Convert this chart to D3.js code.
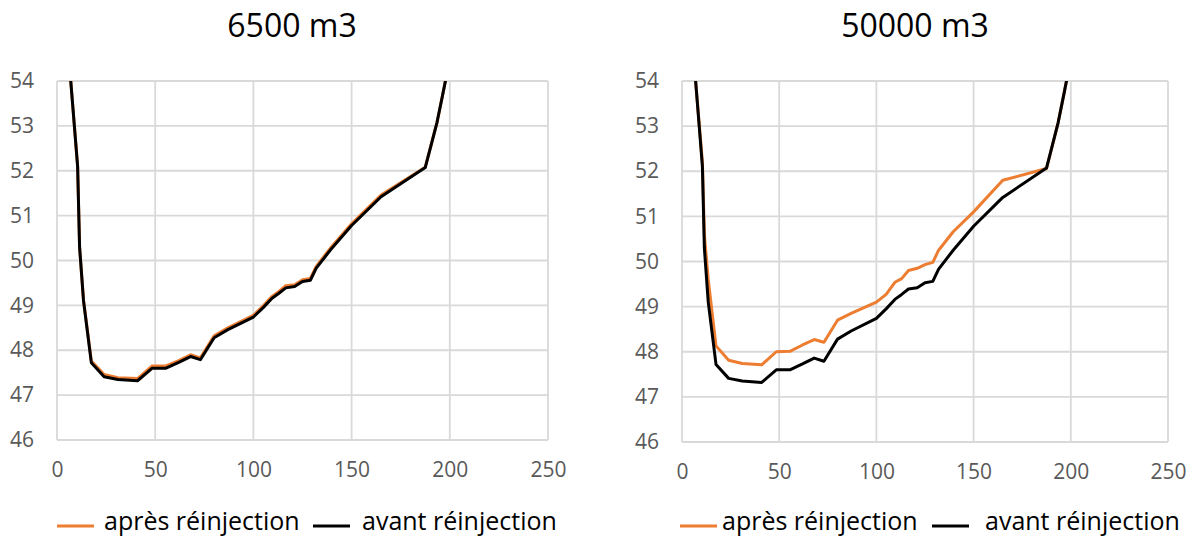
<!DOCTYPE html>
<html>
<head>
<meta charset="utf-8">
<script src="https://cdn.jsdelivr.net/npm/d3@7"></script>
<style>
  html, body { margin: 0; padding: 0; background: #fff; }
  svg { display: block; font-family: "Open Sans", sans-serif; }
</style>
</head>
<body>
<svg id="chart" width="1195" height="538"></svg>
<script>
// distance along the profile (x) and water level (y)
const distance = [7, 10.5, 11.5, 13.5, 17.5, 24, 31, 41, 48.5, 55.5, 62, 68, 73, 80, 87, 100, 105, 109.5, 113, 116.5, 121, 125, 129, 132, 139.5, 150, 165, 187.5, 193.5, 196.5, 198];
const avant = [54, 52.1, 50.3, 49.1, 47.72, 47.41, 47.35, 47.32, 47.6, 47.6, 47.73, 47.86, 47.79, 48.28, 48.46, 48.74, 48.95, 49.16, 49.27, 49.39, 49.42, 49.53, 49.56, 49.83, 50.25, 50.78, 51.42, 52.07, 53.08, 53.72, 54.05];
const apres6500 = [54, 52.1, 50.3, 49.12, 47.76, 47.46, 47.39, 47.37, 47.65, 47.65, 47.77, 47.9, 47.83, 48.32, 48.5, 48.78, 48.99, 49.2, 49.31, 49.44, 49.46, 49.57, 49.6, 49.87, 50.29, 50.82, 51.46, 52.08, 53.08, 53.72, 54.05];
const apres50000 = [54, 52.2, 50.6, 49.6, 48.13, 47.81, 47.74, 47.71, 48.0, 48.01, 48.15, 48.27, 48.21, 48.7, 48.85, 49.1, 49.27, 49.54, 49.62, 49.8, 49.85, 49.93, 49.98, 50.25, 50.66, 51.1, 51.8, 52.06, 53.08, 53.72, 54.05];

const xTicks = [0, 50, 100, 150, 200, 250];
const yTicks = [46, 47, 48, 49, 50, 51, 52, 53, 54];
const titles = ["6500 m3", "50000 m3"];
const seriesNames = ["après réinjection", "avant réinjection"];
const colors = ["#ED7D31", "#000000"];

const svg = d3.select("#chart");

const panels = [
  { title: titles[0], apres: apres6500, x0: 57, x1: 548, y0: 81, y1: 440, titleX: 292,
    legend: [{ line: 57, text: 104 }, { line: 313, text: 362 }] },
  { title: titles[1], apres: apres50000, x0: 682, x1: 1168, y0: 81, y1: 442, titleX: 915,
    legend: [{ line: 680, text: 722 }, { line: 932, text: 985 }] }
];

panels.forEach((p, i) => {
  const g = svg.append("g");

  const xScale = d3.scaleLinear().domain([0, 250]).range([p.x0, p.x1]);
  const yScale = d3.scaleLinear().domain([46, 54]).range([p.y1, p.y0]);

  // gridlines
  g.selectAll(".vgrid")
    .data(xTicks)
    .join("line")
    .attr("x1", (d) => xScale(d))
    .attr("x2", (d) => xScale(d))
    .attr("y1", p.y0)
    .attr("y2", p.y1)
    .attr("stroke", "#d9d9d9")
    .attr("stroke-width", 1.8);
  g.selectAll(".hgrid")
    .data(yTicks)
    .join("line")
    .attr("x1", p.x0)
    .attr("x2", p.x1)
    .attr("y1", (d) => yScale(d))
    .attr("y2", (d) => yScale(d))
    .attr("stroke", "#d9d9d9")
    .attr("stroke-width", 1.8);

  // axes (labels only)
  const xAxis = g.append("g")
    .attr("transform", `translate(0, ${p.y1})`)
    .call(d3.axisBottom(xScale).tickValues(xTicks).tickSize(0).tickPadding(22));
  const yAxis = g.append("g")
    .attr("transform", `translate(${p.x0}, 0)`)
    .call(d3.axisLeft(yScale).tickValues(yTicks).tickSize(0).tickPadding(23));
  [xAxis, yAxis].forEach((a) => {
    a.select(".domain").remove();
    a.selectAll("text")
      .style("font-family", "'Open Sans', sans-serif")
      .style("font-size", "21px")
      .style("fill", "#595959");
  });

  // clip lines to plot area
  const clipId = "clip" + i;
  svg.append("clipPath").attr("id", clipId)
    .append("rect")
    .attr("x", p.x0).attr("y", p.y0)
    .attr("width", p.x1 - p.x0).attr("height", p.y1 - p.y0);

  const line = d3.line()
    .x((d) => xScale(d[0]))
    .y((d) => yScale(d[1]));

  const series = [
    { values: p.apres, color: colors[0] },
    { values: avant, color: colors[1] }
  ];
  g.selectAll(".series")
    .data(series)
    .join("path")
    .attr("clip-path", `url(#${clipId})`)
    .attr("fill", "none")
    .attr("stroke", (d) => d.color)
    .attr("stroke-width", 3)
    .attr("stroke-linejoin", "round")
    .attr("d", (d) => line(distance.map((x, k) => [x, d.values[k]])));

  // title
  g.append("text")
    .attr("x", p.titleX)
    .attr("y", 37)
    .attr("text-anchor", "middle")
    .style("font-size", "32px")
    .style("fill", "#000")
    .text(p.title);

  // legend
  p.legend.forEach((l, k) => {
    g.append("line")
      .attr("x1", l.line).attr("x2", l.line + 37)
      .attr("y1", 526).attr("y2", 526)
      .attr("stroke", colors[k])
      .attr("stroke-width", 3);
    g.append("text")
      .attr("x", l.text)
      .attr("y", 530)
      .style("font-size", "25px")
      .style("fill", "#000")
      .text(seriesNames[k]);
  });
});
</script>
</body>
</html>
